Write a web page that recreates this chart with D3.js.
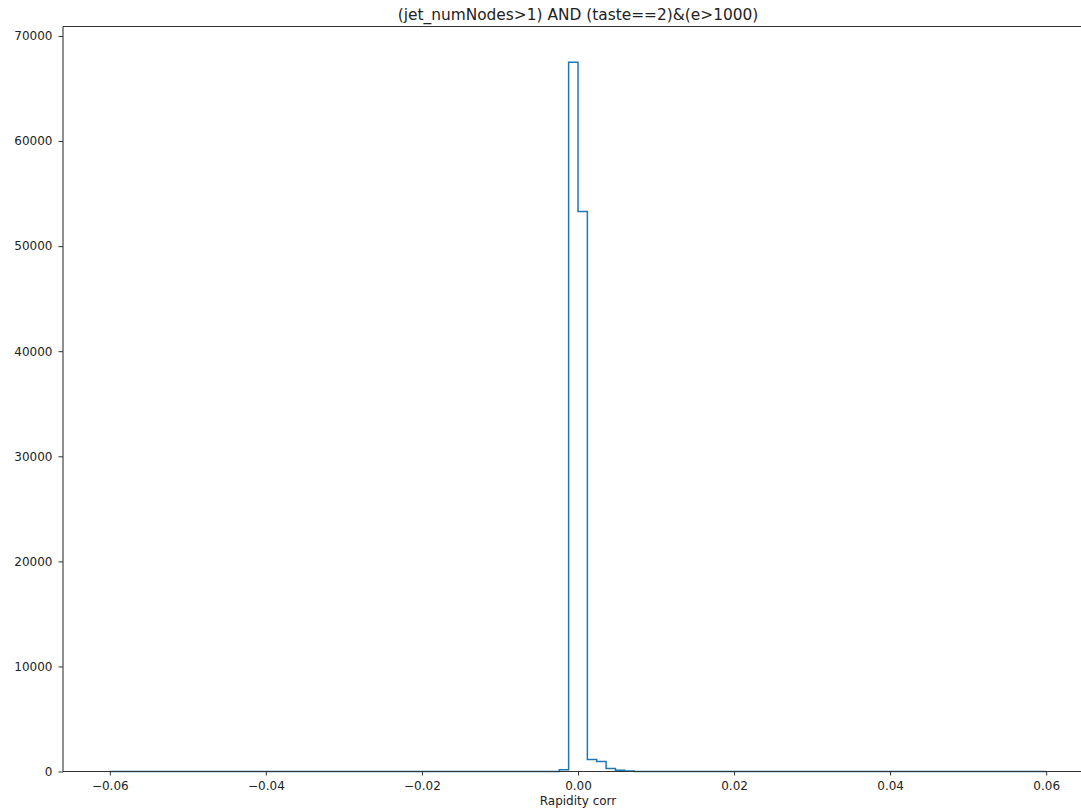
<!DOCTYPE html>
<html>
<head>
<meta charset="utf-8">
<script src="https://cdn.jsdelivr.net/npm/d3@7"></script>
<style>
	html, body { margin: 0; padding: 0; background: #fff; overflow: hidden; }
	svg { display: block; font-family: 'DejaVu Sans', sans-serif; }
</style>
</head>
<body>
<svg id="chart" width="1081" height="810"></svg>
<script>
// Histogram settings and counts.
const titleText = '(jet_numNodes>1) AND (taste==2)&(e>1000)';
const xLabelText = 'Rapidity corr';
const histRange = [-0.06, 0.06];
const histBins = 100;
const binLefts = [-0.0024, -0.0012, 0.0, 0.0012, 0.0024, 0.0036, 0.0048, 0.006];
const binCounts = [170, 67500, 53300, 1150, 950, 280, 130, 40];
const xTicks = [-0.06, -0.04, -0.02, 0.0, 0.02, 0.04, 0.06];
const yTicks = [0, 10000, 20000, 30000, 40000, 50000, 60000, 70000];

const svg = d3.select('#chart');

const margin = { left: 63, top: 26.5, bottom: 771.5 };
const axRight = 1093;

const x = d3.scaleLinear().domain([-0.066, 0.066]).range([margin.left, axRight]);
const y = d3.scaleLinear().domain([0, 70900]).range([margin.bottom, margin.top]);

// Full bin list, zero where no count was read.
const binWidth = (histRange[1] - histRange[0]) / histBins;
const bins = d3.range(histBins).map(i => {
	const x0 = histRange[0] + i * binWidth;
	const k = binLefts.findIndex(b => Math.abs(b - x0) < binWidth / 2);
	return { x0, x1: x0 + binWidth, n: k < 0 ? 0 : binCounts[k] };
});

// Step outline like matplotlib histtype='step'.
const pts = [[bins[0].x0, 0]];
bins.forEach(b => {
	pts.push([b.x0, b.n]);
	pts.push([b.x1, b.n]);
});
pts.push([bins[bins.length - 1].x1, 0]);

svg.append('path')
	.attr('d', d3.line().x(d => x(d[0])).y(d => y(d[1]))(pts))
	.attr('fill', 'none')
	.attr('stroke', '#1f77b4')
	.attr('stroke-width', 1.5)
	.attr('stroke-linejoin', 'miter');

// Axes.
const fmtX = v => (v < 0 ? '\u2212' : '') + Math.abs(v).toFixed(2);

const gx = svg.append('g')
	.attr('transform', `translate(0,${margin.bottom})`)
	.call(d3.axisBottom(x).tickValues(xTicks).tickFormat(fmtX).tickSize(4).tickPadding(6));

const gy = svg.append('g')
	.attr('transform', `translate(${margin.left},0)`)
	.call(d3.axisLeft(y).tickValues(yTicks).tickFormat(d3.format('d')).tickSize(4.5).tickPadding(6));

[gx, gy].forEach(g => {
	g.select('.domain').remove();
	g.selectAll('line').attr('stroke', '#333').attr('stroke-width', 1);
	g.selectAll('text').attr('fill', '#222').attr('font-size', 12).attr('font-family', 'DejaVu Sans');
});

// Spines: left, top, bottom (right edge falls outside the window).
const spine = (x1, y1, x2, y2) => svg.append('line')
	.attr('x1', x1).attr('y1', y1).attr('x2', x2).attr('y2', y2)
	.attr('stroke', '#333').attr('stroke-width', 1.1);
spine(margin.left, margin.top, margin.left, margin.bottom);
spine(margin.left, margin.top, axRight, margin.top);
spine(margin.left, margin.bottom, axRight, margin.bottom);

svg.append('text')
	.attr('x', (margin.left + axRight) / 2)
	.attr('y', 19.5)
	.attr('text-anchor', 'middle')
	.attr('font-size', 15.4)
	.attr('fill', '#222')
	.text(titleText);

svg.append('text')
	.attr('x', (margin.left + axRight) / 2)
	.attr('y', 804.5)
	.attr('text-anchor', 'middle')
	.attr('font-size', 12)
	.attr('fill', '#222')
	.text(xLabelText);
</script>
</body>
</html>
